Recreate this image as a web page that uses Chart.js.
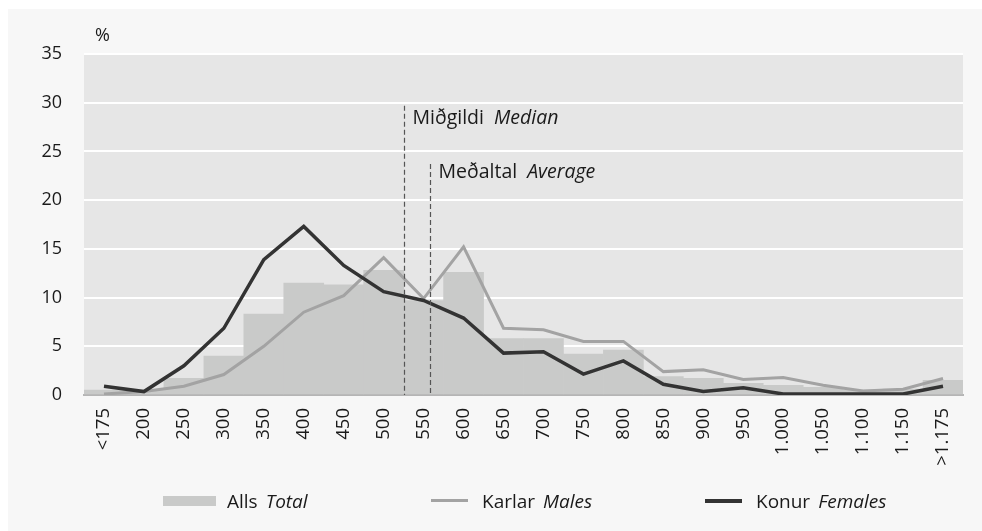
<!DOCTYPE html>
<html>
<head>
<meta charset="utf-8">
<script src="https://cdn.jsdelivr.net/npm/chart.js@4"></script>
<style>
  html, body { margin: 0; padding: 0; background: #fff; }
  #wrap { position: relative; width: 982px; height: 531px; overflow: hidden; }
  #panel { position: absolute; left: 8px; top: 9px; right: 0; bottom: 0; background: #f7f7f7; }
  #chart { position: absolute; left: 0; top: 0; }
  .lg { position: absolute; top: 489px; font: 19px "Open Sans"; color: #1a1a1a; line-height: 24px; white-space: nowrap; }
  .lg i { margin-left: 8px; }
  .sw { position: absolute; }
</style>
</head>
<body>
<div id="wrap">
  <div id="panel"></div>
  <canvas id="chart" width="982" height="531"></canvas>
  <div class="sw" style="left:163px;top:496px;width:53px;height:10px;background:#c9cac9"></div>
  <div class="lg" style="left:227px">Alls<i>Total</i></div>
  <div class="sw" style="left:431px;top:499px;width:37px;height:3px;background:#a3a3a3"></div>
  <div class="lg" style="left:482px">Karlar<i>Males</i></div>
  <div class="sw" style="left:705px;top:499px;width:37px;height:4px;background:#333"></div>
  <div class="lg" style="left:756px">Konur<i>Females</i></div>
</div>
<script>
const labels = ["<175", "200", "250", "300", "350", "400", "450", "500", "550", "600", "650",
  "700", "750", "800", "850", "900", "950", "1.000", "1.050", "1.100", "1.150", ">1.175"];
const total = [0.5, 0.5, 1.7, 4.0, 8.3, 11.5, 11.3, 12.8, 9.7, 12.6, 5.8,
  5.8, 4.2, 4.6, 1.9, 1.7, 1.2, 1.0, 0.8, 0.5, 0.6, 1.5];
const males = [0.1, 0.35, 0.9, 2.1, 5.0, 8.5, 10.2, 14.1, 9.9, 15.2, 6.85,
  6.7, 5.5, 5.5, 2.4, 2.6, 1.6, 1.8, 1.0, 0.4, 0.6, 1.7];
const females = [0.9, 0.35, 3.0, 6.85, 13.9, 17.3, 13.3, 10.6, 9.7, 7.9, 4.3,
  4.45, 2.15, 3.5, 1.1, 0.35, 0.75, 0.1, 0.1, 0.1, 0.1, 0.9];
// median / average (in thousands), with the height of their marker lines
const markerValues = [526, 558];
const markerTops = [29.7, 23.7];
const markerNames = ["Miðgildi", "Meðaltal"];
const markerNamesEn = ["Median", "Average"];

const FONT = "Open Sans";

// category index for a value on the 200..1150 step-50 scale
function toIndex(v) {
  return 1 + (v - 200) / 50;
}

const backdrop = {
  id: "backdrop",
  beforeDraw(chart) {
    const { ctx, chartArea: a } = chart;
    ctx.save();
    ctx.fillStyle = "#e6e6e6";
    ctx.fillRect(a.left, a.top, a.right - a.left, a.bottom - a.top);
    ctx.fillStyle = "#1a1a1a";
    ctx.font = `18px "${FONT}"`;
    ctx.textBaseline = "middle";
    ctx.fillText("%", a.left + 11, a.top - 18);
    ctx.restore();
  }
};

const markerLines = {
  id: "markerLines",
  afterDatasetsDraw(chart) {
    const { ctx, scales: { x, y } } = chart;
    const base = y.getPixelForValue(0);
    ctx.save();
    markerValues.forEach((v, i) => {
      const px = Math.round(x.getPixelForValue(toIndex(v))) + 0.5;
      const top = y.getPixelForValue(markerTops[i]);
      ctx.strokeStyle = "#555";
      ctx.lineWidth = 1.2;
      ctx.setLineDash([5, 3]);
      ctx.beginPath();
      ctx.moveTo(px, top);
      ctx.lineTo(px, base);
      ctx.stroke();
      ctx.setLineDash([]);
      ctx.fillStyle = "#1a1a1a";
      ctx.textBaseline = "alphabetic";
      ctx.font = `19.5px "${FONT}"`;
      const ty = top + (i === 0 ? 18 : 14);
      ctx.fillText(markerNames[i], px + 8, ty);
      const w = ctx.measureText(markerNames[i]).width;
      ctx.font = `italic 19.5px "${FONT}"`;
      ctx.fillText(markerNamesEn[i], px + 8 + w + 10, ty);
    });
    ctx.restore();
  }
};

new Chart(document.getElementById("chart").getContext("2d"), {
  type: "bar",
  data: {
    labels,
    datasets: [
      { type: "line", label: "Konur Females", data: females, borderColor: "#333",
        borderWidth: 3.5, pointRadius: 0, tension: 0, order: 1 },
      { type: "line", label: "Karlar Males", data: males, borderColor: "#a3a3a3",
        borderWidth: 3, pointRadius: 0, tension: 0, order: 2 },
      { type: "bar", label: "Alls Total", data: total, backgroundColor: "#c9cac9",
        barPercentage: 1, categoryPercentage: 1, order: 3 }
    ]
  },
  options: {
    responsive: false,
    animation: false,
    layout: { padding: { top: 54, right: 19, left: 0, bottom: 0 } },
    plugins: { legend: { display: false }, tooltip: { enabled: false } },
    scales: {
      x: {
        z: 1,
        grid: { display: false, drawTicks: false },
        border: { display: true, color: "#b5b5b5", width: 2 },
        ticks: { minRotation: 90, maxRotation: 90, autoSkip: false, padding: 13,
          color: "#1a1a1a", font: { family: FONT, size: 18.5 } },
        afterFit(s) { s.height = 136; }
      },
      y: {
        min: 0, max: 35,
        ticks: { stepSize: 5, padding: 22, color: "#1a1a1a", font: { family: FONT, size: 18 } },
        grid: { drawTicks: false, lineWidth: 2,
          color: (c) => (c.tick && c.tick.value === 0 ? "rgba(0,0,0,0)" : "#fff") },
        border: { display: false },
        afterFit(s) { s.width = 84; }
      }
    }
  },
  plugins: [backdrop, markerLines]
});
</script>
</body>
</html>
